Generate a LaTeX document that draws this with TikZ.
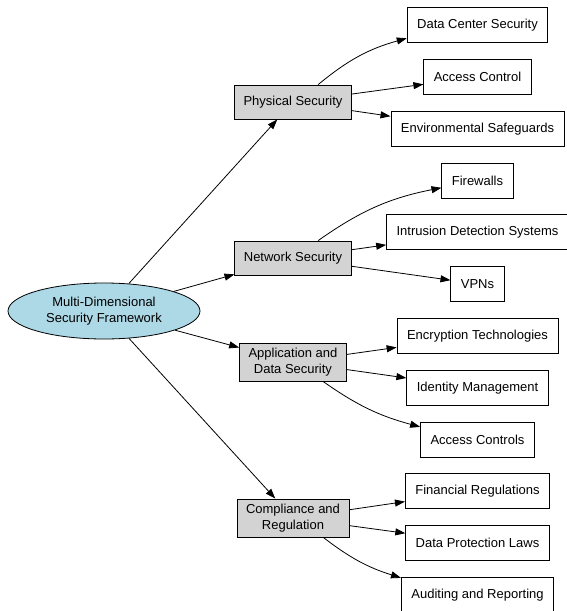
\documentclass[tikz,border=0pt]{standalone}
\usepackage{fontspec}
\setmainfont{Liberation Sans}
\usetikzlibrary{shapes.geometric, arrows.meta}
\definecolor{catgray}{HTML}{D3D3D3}
\definecolor{rootblue}{HTML}{ADD8E6}

\begin{document}
\begin{tikzpicture}[x=1pt, y=1pt, node distance=184.5pt, auto, line width=0.8pt,
    >={Triangle[length=10pt, width=7pt]},
    every node/.style={font=\fontsize{13}{16}\selectfont},
    catbox/.style={draw, rectangle, fill=catgray, align=center, inner xsep=9pt, inner ysep=5pt, minimum height=34pt},
    leafbox/.style={draw, rectangle, align=center, inner xsep=10pt, minimum height=35pt}]
    \useasboundingbox (0,0) rectangle (566,-611);

    \node (framework) [draw, ellipse, fill=rootblue, align=center, minimum width=192pt, minimum height=56pt] at (104,-311) {Multi-Dimensional\\Security Framework};

    \node (physical) [catbox, right of=framework, node distance=189pt, yshift=209pt] {Physical Security};
    \node (network) [catbox, right of=framework, node distance=189pt, yshift=53pt] {Network Security};
    \node (appdata) [catbox, right of=framework, node distance=189pt, yshift=-51pt] {Application and\\Data Security};
    \node (compliance) [catbox, right of=framework, node distance=189pt, yshift=-207pt] {Compliance and\\Regulation};

    \node (datacenter) [leafbox, right of=physical, yshift=77pt] {Data Center Security};
    \node (access) [leafbox, right of=physical, yshift=25pt] {Access Control};
    \node (environ) [leafbox, right of=physical, yshift=-27pt] {Environmental Safeguards};

    \node (firewalls) [leafbox, right of=network, yshift=77pt] {Firewalls};
    \node (intrusion) [leafbox, right of=network, yshift=26pt] {Intrusion Detection Systems};
    \node (vpns) [leafbox, right of=network, yshift=-26pt] {VPNs};

    \node (encryption) [leafbox, right of=appdata, yshift=26pt] {Encryption Technologies};
    \node (identity) [leafbox, right of=appdata, yshift=-26pt] {Identity Management};
    \node (accessctl) [leafbox, right of=appdata, yshift=-78pt] {Access Controls};

    \node (financial) [leafbox, right of=compliance, yshift=27pt] {Financial Regulations};
    \node (dataprot) [leafbox, right of=compliance, yshift=-25pt] {Data Protection Laws};
    \node (auditing) [leafbox, right of=compliance, yshift=-77pt] {Auditing and Reporting};

    \draw[->] (framework) -- (physical);
    \draw[->] (framework) -- (network);
    \draw[->] (framework) -- (appdata);
    \draw[->] (framework) -- (compliance);

    \draw[->] (physical) to[bend left=12] (datacenter);
    \draw[->] (physical) -- (access);
    \draw[->] (physical) -- (environ);

    \draw[->] (network) to[bend left=12] (firewalls);
    \draw[->] (network) -- (intrusion);
    \draw[->] (network) -- (vpns);

    \draw[->] (appdata) -- (encryption);
    \draw[->] (appdata) -- (identity);
    \draw[->] (appdata) to[bend right=10] (accessctl);

    \draw[->] (compliance) -- (financial);
    \draw[->] (compliance) -- (dataprot);
    \draw[->] (compliance) to[bend right=10] (auditing);
\end{tikzpicture}
\end{document}
